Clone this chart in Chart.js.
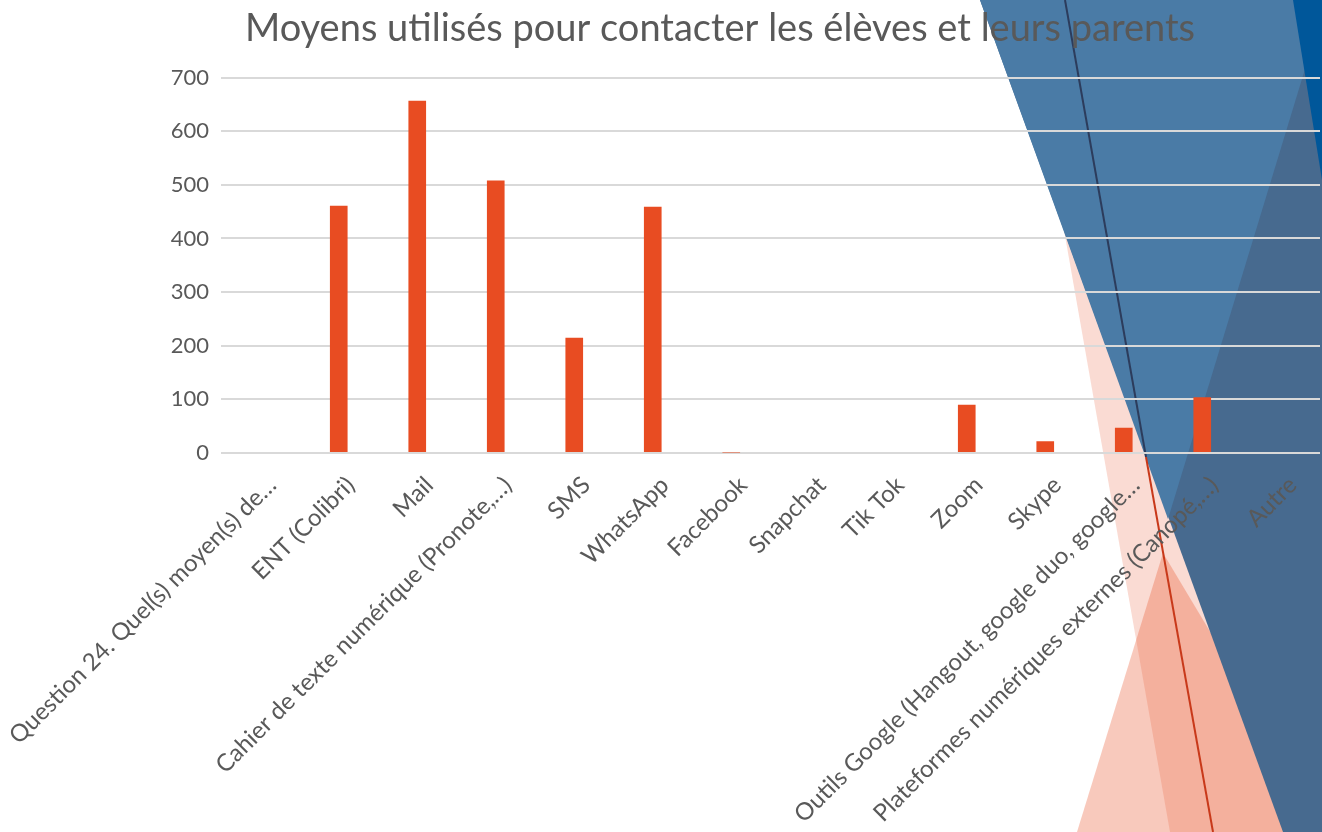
<!DOCTYPE html>
<html lang="fr">
<head>
<meta charset="utf-8">
<title>Moyens utilisés pour contacter les élèves et leurs parents</title>
<script src="https://cdn.jsdelivr.net/npm/chart.js@4.4.1/dist/chart.umd.min.js"></script>
<style>
  html, body { margin: 0; padding: 0; background: #fff; }
  #wrap { width: 1322px; height: 832px; position: relative; }
</style>
</head>
<body>
<div id="wrap"><canvas id="chart"></canvas></div>
<script>
// === Données ===
const categories = [
  'Question 24. Quel(s) moyen(s) de…',
  'ENT (Colibri)',
  'Mail',
  'Cahier de texte numérique (Pronote,…)',
  'SMS',
  'WhatsApp',
  'Facebook',
  'Snapchat',
  'Tik Tok',
  'Zoom',
  'Skype',
  'Outils Google (Hangout, google duo, google…',
  'Plateformes numériques externes (Canopé,…)',
  'Autre'
];
const counts = [0, 461, 657, 508, 215, 459, 1, 0, 0, 90, 22, 47, 104, 0];
const yMin = 0;
const yMax = 700;
const yStep = 100;

const FONT = 'Lato, "Open Sans", sans-serif';
const GREY = '#595959';

// === Fond de la diapositive (facettes) ===
const slideBackground = {
  id: 'slideBackground',
  beforeDraw(chart) {
    const ctx = chart.ctx;
    const poly = (pts, fill) => {
      ctx.beginPath();
      pts.forEach(([x, y], i) => i ? ctx.lineTo(x, y) : ctx.moveTo(x, y));
      ctx.closePath();
      ctx.fillStyle = fill;
      ctx.fill();
    };
    const seg = (a, b, color) => {
      ctx.beginPath();
      ctx.moveTo(a[0], a[1]);
      ctx.lineTo(b[0], b[1]);
      ctx.strokeStyle = color;
      ctx.lineWidth = 2;
      ctx.stroke();
    };
    ctx.save();
    ctx.fillStyle = '#fff';
    ctx.fillRect(0, 0, chart.width, chart.height);
    // pink
    poly([[1064, 230], [1330, 832], [1170, 832]], 'rgba(232,76,34,0.2)');
    poly([[1163, 553], [1330, 832], [1077, 832]], 'rgba(232,76,34,0.3)');
    // blue
    poly([[980, 0], [1322, 0], [1322, 832], [1283, 832]], '#476A8F');
    poly([[980, 0], [1326, 0], [1168, 519]], '#4A7BA6');
    poly([[1293, 0], [1322, 0], [1322, 180]], '#00579A');
    // thin line
    seg([1065, 0], [1146, 457], '#2C3C5C');
    seg([1146, 457], [1213, 832], '#C8391A');
    ctx.restore();
  }
};

new Chart(document.getElementById('chart'), {
  type: 'bar',
  data: {
    labels: categories,
    datasets: [{
      data: counts,
      backgroundColor: '#E84C22',
      borderWidth: 0,
      barPercentage: 0.225,
      categoryPercentage: 1
    }]
  },
  options: {
    responsive: true,
    maintainAspectRatio: false,
    animation: false,
    layout: { padding: { left: 120, right: 2, top: 0, bottom: 0 } },
    plugins: {
      legend: { display: false },
      tooltip: { enabled: false },
      title: {
        display: true,
        text: 'Moyens utilisés pour contacter les élèves et leurs parents',
        color: GREY,
        font: { family: FONT, size: 38, weight: 'normal' },
        padding: { top: 6, bottom: 26 }
      }
    },
    scales: {
      x: {
        grid: { display: false },
        border: { display: false },
        ticks: {
          color: GREY,
          font: { family: FONT, size: 24 },
          minRotation: 45,
          maxRotation: 45,
          autoSkip: false,
          padding: 10,
          labelOffset: 12
        },
        afterFit: s => { s.height = 379; s.paddingLeft = 0; s.paddingRight = 0; }
      },
      y: {
        min: yMin,
        max: yMax,
        grid: { color: '#D9D9D9', lineWidth: 2, drawTicks: false },
        border: { display: false },
        ticks: {
          stepSize: yStep,
          color: GREY,
          font: { family: FONT, size: 22 },
          padding: 12
        },
        afterFit: s => { s.width = 101; }
      }
    }
  },
  plugins: [slideBackground]
});
</script>
</body>
</html>
